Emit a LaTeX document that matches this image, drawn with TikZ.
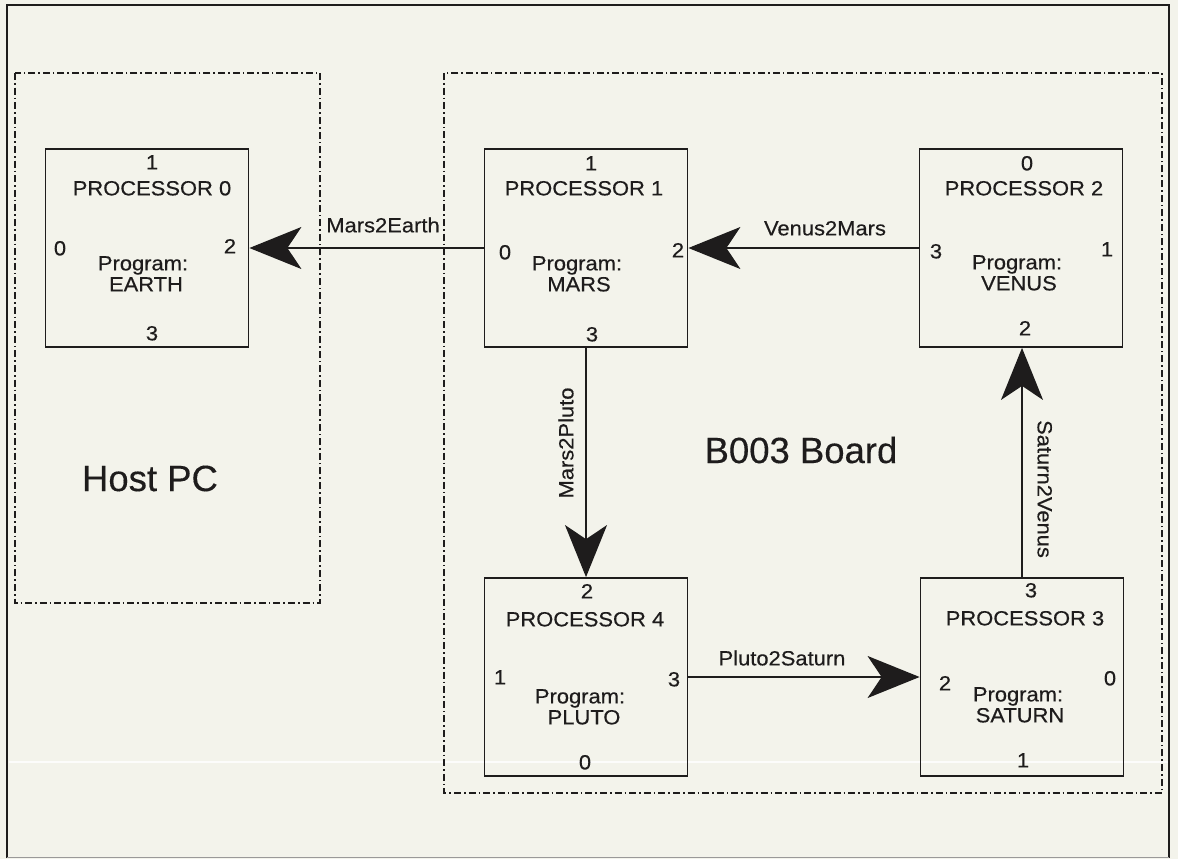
\documentclass[tikz,border=0pt]{standalone}
\usepackage{fontspec}
\setmainfont{Liberation Sans}
\newfontfamily\plainlabel[FakeStretch=1.07, FakeBold=0.4]{Liberation Sans}
\newfontfamily\arealabel[FakeBold=0.3]{Liberation Sans}
\usetikzlibrary{arrows.meta}

\definecolor{paper}{RGB}{243,243,235}
\definecolor{ink}{RGB}{30,28,28}

\tikzset{
  procbox/.style={draw=ink, line width=1.8pt, minimum width=203pt, minimum height=198pt, inner sep=0pt},
  areabox/.style={draw=ink, line width=1.4pt, dash pattern=on 7pt off 3pt on 1.6pt off 3pt},
  txt/.style={text=ink, font=\plainlabel\fontsize{20.5}{22}\selectfont, inner sep=0pt, text height=14.7pt, text depth=0pt},
  bigtxt/.style={text=ink, font=\arealabel\fontsize{36.5}{40}\selectfont, inner sep=0pt, text height=26.1pt, text depth=0pt},
  flow/.style={draw=ink, line width=1.4pt, -{Stealth[length=52pt, width=42pt, inset=14pt]}}
}

\begin{document}
\begin{tikzpicture}[x=1pt, y=-1pt]
  % page and outer frame
  \fill[paper] (0,0) rectangle (1178,859);
  \useasboundingbox (0,0) rectangle (1178,859);
  \draw[white, line width=1.5pt, opacity=0.8] (9,762) -- (1168,762);
  \draw[ink, line width=2.4pt] (7,858) -- (7,5) -- (1169,5) -- (1169,858);
  \draw[ink!45, line width=1pt] (7,857.5) -- (1169,857.5);

  % host and board areas
  \draw[areabox] (15,73) rectangle (320,603);
  \draw[areabox] (444,73) rectangle (1162,793);
  \node[bigtxt] (host) at (150,478) {Host PC};
  \node[bigtxt] (board) at (801,450) {B003 Board};

  % processors
  \node[procbox] (p0) at (147,248) {};
  \node[procbox] (p1) at (586,248) {};
  \node[procbox] (p2) at (1021,248) {};
  \node[procbox] (p4) at (586,677) {};
  \node[procbox] (p3) at (1022,677) {};

  % processor 0
  \node[txt] (p0t) at (152,162) {1};
  \node[txt] (p0n) at (152,188) {PROCESSOR 0};
  \node[txt] (p0l) at (60,248) {0};
  \node[txt] (p0r) at (230,246) {2};
  \node[txt] (p0p) at (143,263) {Program:};
  \node[txt] (p0g) at (146,284) {EARTH};
  \node[txt] (p0b) at (152,333) {3};

  % processor 1
  \node[txt] (p1t) at (591,163) {1};
  \node[txt] (p1n) at (584,188) {PROCESSOR 1};
  \node[txt] (p1l) at (505,252) {0};
  \node[txt] (p1r) at (678,250) {2};
  \node[txt] (p1p) at (577,263) {Program:};
  \node[txt] (p1g) at (579,284) {MARS};
  \node[txt] (p1b) at (592,334) {3};

  % processor 2
  \node[txt] (p2t) at (1027,163) {0};
  \node[txt] (p2n) at (1024,188) {PROCESSOR 2};
  \node[txt] (p2l) at (936,251) {3};
  \node[txt] (p2r) at (1107,249) {1};
  \node[txt] (p2p) at (1017,262) {Program:};
  \node[txt] (p2g) at (1019,283) {VENUS};
  \node[txt] (p2b) at (1025,328) {2};

  % processor 4
  \node[txt] (p4t) at (587,591) {2};
  \node[txt] (p4n) at (585,619) {PROCESSOR 4};
  \node[txt] (p4l) at (500,677) {1};
  \node[txt] (p4r) at (674,679) {3};
  \node[txt] (p4p) at (580,696) {Program:};
  \node[txt] (p4g) at (584,717) {PLUTO};
  \node[txt] (p4b) at (585,762) {0};

  % processor 3
  \node[txt] (p3t) at (1031,590) {3};
  \node[txt] (p3n) at (1025,618) {PROCESSOR 3};
  \node[txt] (p3l) at (945,683) {2};
  \node[txt] (p3r) at (1110,678) {0};
  \node[txt] (p3p) at (1018,694) {Program:};
  \node[txt] (p3g) at (1020,715) {SATURN};
  \node[txt] (p3b) at (1023,760) {1};

  % channels
  \draw[flow] (p1.west) -- (p0.east);
  \draw[flow] (p2.west) -- (p1.east);
  \draw[flow] (p1.south) -- (p4.north);
  \draw[flow] (p4.east) -- (p3.west);
  \draw[flow] (p3.north) -- (p3.north |- p2.south);

  % channel names
  \node[txt] (c1) at (383,225) {Mars2Earth};
  \node[txt] (c2) at (825,228) {Venus2Mars};
  \node[txt, rotate=90] (c3) at (566,443) {Mars2Pluto};
  \node[txt, rotate=-90] (c4) at (1045,489) {Saturn2Venus};
  \node[txt] (c5) at (782,658) {Pluto2Saturn};
\end{tikzpicture}
\end{document}
